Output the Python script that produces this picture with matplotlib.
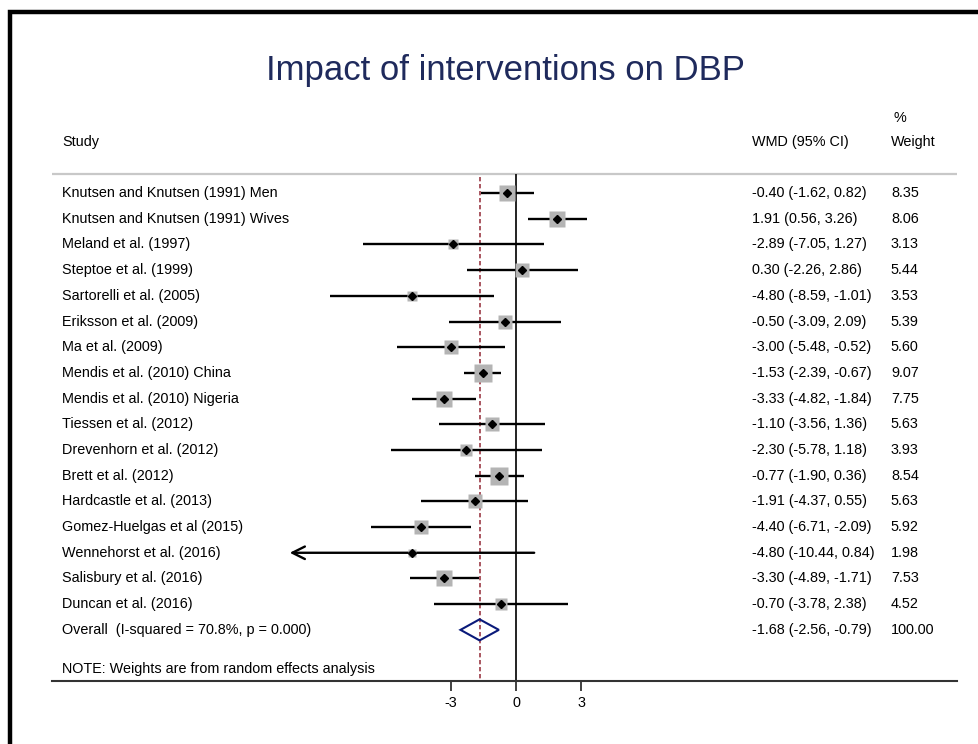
import numpy as np
import matplotlib
matplotlib.use("Agg")
import matplotlib.pyplot as plt
from matplotlib.patches import Rectangle, Polygon

plt.rcParams['font.family'] = ['Liberation Sans', 'DejaVu Sans']

# study data
studies = [
    "Knutsen and Knutsen (1991) Men",
    "Knutsen and Knutsen (1991) Wives",
    "Meland et al. (1997)",
    "Steptoe et al. (1999)",
    "Sartorelli et al. (2005)",
    "Eriksson et al. (2009)",
    "Ma et al. (2009)",
    "Mendis et al. (2010) China",
    "Mendis et al. (2010) Nigeria",
    "Tiessen et al. (2012)",
    "Drevenhorn et al. (2012)",
    "Brett et al. (2012)",
    "Hardcastle et al. (2013)",
    "Gomez-Huelgas et al (2015)",
    "Wennehorst et al. (2016)",
    "Salisbury et al. (2016)",
    "Duncan et al. (2016)",
]
wmd = [-0.40, 1.91, -2.89, 0.30, -4.80, -0.50, -3.00, -1.53, -3.33,
       -1.10, -2.30, -0.77, -1.91, -4.40, -4.80, -3.30, -0.70]
ci_low = [-1.62, 0.56, -7.05, -2.26, -8.59, -3.09, -5.48, -2.39, -4.82,
          -3.56, -5.78, -1.90, -4.37, -6.71, -10.44, -4.89, -3.78]
ci_high = [0.82, 3.26, 1.27, 2.86, -1.01, 2.09, -0.52, -0.67, -1.84,
           1.36, 1.18, 0.36, 0.55, -2.09, 0.84, -1.71, 2.38]
weights = [8.35, 8.06, 3.13, 5.44, 3.53, 5.39, 5.60, 9.07, 7.75,
           5.63, 3.93, 8.54, 5.63, 5.92, 1.98, 7.53, 4.52]

overall_label = "Overall  (I-squared = 70.8%, p = 0.000)"
overall = -1.68
overall_low = -2.56
overall_high = -0.79
overall_weight = 100.00

xticks = [-3, 0, 3]
arrow_limit = -10.44  # CI clipped with arrow beyond this

W, H = 979, 744
fig = plt.figure(figsize=(W / 100, H / 100), dpi=100)

# axes spans the table area, pixel box 52..957 x 100..681
ax = fig.add_axes([52 / W, 1 - 681 / H, (957 - 52) / W, (681 - 100) / H])
ax.set_xlim(-21.41, 20.35)
ax.set_ylim(18.99, -3.62)
ybot = 18.99

n = len(studies)
rows = np.arange(n)
col_study = -20.95
col_wmd = 10.89
col_wt = 17.30
fs = 10.4

# headers
ax.text(col_study, -1.98, "Study", fontsize=fs, va='center')
ax.text(col_wmd, -1.98, "WMD (95% CI)", fontsize=fs, va='center')
ax.text(col_wt, -1.98, "Weight", fontsize=fs, va='center')
ax.text(col_wt + 0.1, -2.92, "%", fontsize=fs, va='center')
ax.axhline(-0.74, color='#c8c8c8', lw=1.6)

# reference lines
ax.vlines(0, -0.74, ybot, color='#222222', lw=1.4)
ax.vlines(overall, -0.62, ybot, color='#9b3a46', lw=1.2,
          linestyles=(0, (2.6, 1.6)))

for i in rows:
    lo = ci_low[i]
    if lo <= arrow_limit:
        ax.annotate("", xy=(lo, i), xytext=(ci_high[i], i),
                    arrowprops=dict(arrowstyle='->,head_length=0.9,head_width=0.45',
                                    color='black', lw=1.7, shrinkA=0, shrinkB=0))
    else:
        ax.plot([lo, ci_high[i]], [i, i], color='black', lw=1.7,
                solid_capstyle='butt')
    ax.plot(wmd[i], i, marker='s', ms=4.2 * np.sqrt(weights[i]),
            color='#b4b4b4', mec='none', zorder=3)
    ax.plot(wmd[i], i, marker='D', ms=3.6, color='black', zorder=4)
    ax.text(col_study, i, studies[i], fontsize=fs, va='center')
    ax.text(col_wmd, i, f"{wmd[i]:.2f} ({ci_low[i]:.2f}, {ci_high[i]:.2f})",
            fontsize=fs, va='center')
    ax.text(col_wt, i, f"{weights[i]:.2f}", fontsize=fs, va='center')

# overall diamond
yo = n
diamond = Polygon([[overall_low, yo], [overall, yo - 0.41],
                   [overall_high, yo], [overall, yo + 0.41]],
                  closed=True, fill=False, edgecolor='#0a1a7a', lw=1.5, zorder=5)
ax.add_patch(diamond)
ax.text(col_study, yo, overall_label, fontsize=fs, va='center')
ax.text(col_wmd, yo, f"{overall:.2f} ({overall_low:.2f}, {overall_high:.2f})",
        fontsize=fs, va='center')
ax.text(col_wt, yo, f"{overall_weight:.2f}", fontsize=fs, va='center')

ax.text(col_study, 18.52, "NOTE: Weights are from random effects analysis",
        fontsize=fs, va='center')

# axis styling
for s in ['top', 'right', 'left']:
    ax.spines[s].set_visible(False)
ax.spines['bottom'].set_linewidth(1.5)
ax.spines['bottom'].set_color('#333333')
ax.set_yticks([])
ax.set_xticks(xticks)
ax.set_xticklabels([str(t) for t in xticks])
ax.tick_params(axis='x', length=7, width=1.3, labelsize=fs, pad=4, color='#333333')

# title
fig.text(505 / W, 1 - 80 / H, "Impact of interventions on DBP", fontsize=25,
         color='#1f2a5c', ha='center', va='baseline')

# slide frame
frame = Rectangle((9.5 / W, -0.2), 1.2, 1 - 12 / H + 0.2, transform=fig.transFigure,
                  fill=False, edgecolor='black', lw=3.2, clip_on=False)
fig.patches.append(frame)

fig.savefig("out.png", dpi=100)
